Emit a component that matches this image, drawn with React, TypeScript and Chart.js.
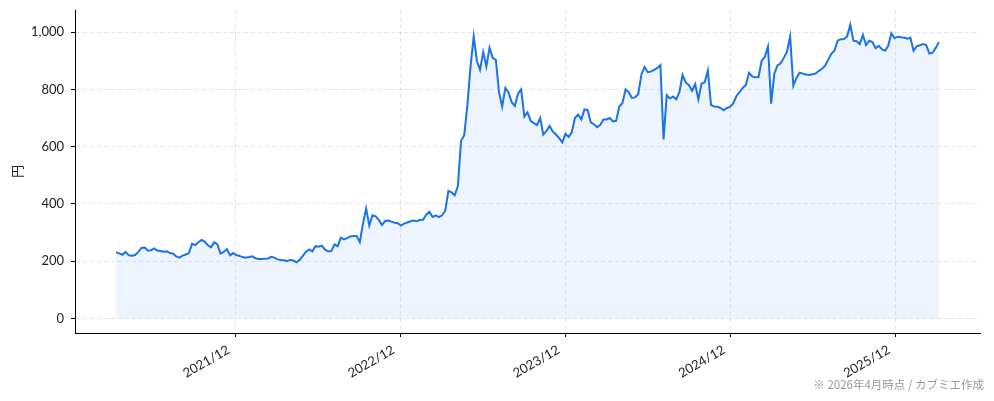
import React, { useEffect, useRef } from 'react';
import { Chart, registerables } from 'chart.js';

Chart.register(...registerables);

// weekly closing price (円), first week 2021-03-12
const START_DATE = '2021-03-12';
const STEP_DAYS = 7;
const weeklyClose = [
  231, 227, 222, 232, 220, 219, 221, 232, 246, 247,
  237, 238, 244, 237, 235, 233, 234, 228, 226, 216,
  212, 219, 223, 228, 260, 256, 266, 274, 268, 255,
  248, 266, 258, 226, 232, 242, 220, 228, 221, 218,
  214, 212, 214, 217, 210, 207, 207, 208, 209, 215,
  212, 206, 204, 203, 200, 204, 202, 196, 204, 218,
  233, 241, 234, 252, 250, 254, 240, 234, 235, 258,
  252, 282, 276, 280, 286, 288, 288, 266, 330, 384,
  324, 360, 356, 344, 326, 340, 342, 338, 334, 332,
  324, 331, 335, 339, 342, 339, 344, 344, 362, 372,
  354, 360, 354, 360, 376, 445, 440, 430, 462, 620,
  640, 745, 880, 985, 900, 868, 930, 880, 945, 910,
  903, 790, 740, 805, 790, 755, 742, 785, 800, 705,
  720, 690, 682, 675, 700, 642, 655, 672, 652, 642,
  630, 615, 645, 634, 650, 700, 712, 695, 730, 728,
  685, 678, 668, 676, 695, 695, 700, 688, 690, 740,
  752, 800, 790, 770, 772, 784, 852, 878, 860, 862,
  868, 874, 885, 625, 780, 768, 775, 765, 790, 850,
  824, 815, 795, 818, 765, 820, 825, 866, 745, 740,
  739, 735, 727, 735, 739, 751, 776, 790, 805, 815,
  858, 845, 842, 843, 900, 913, 950, 750, 855, 884,
  891, 910, 932, 985, 813, 840, 858, 855, 852, 850,
  853, 855, 864, 871, 882, 903, 924, 935, 970, 975,
  976, 985, 1026, 970, 968, 958, 990, 955, 970, 965,
  944, 952, 940, 935, 952, 996, 979, 984, 982, 981,
  977, 980, 935, 950, 954, 958, 955, 925, 928, 945,
  965,
];

const X_TICK_DATES = ['2021-12-01', '2022-12-01', '2023-12-01', '2024-12-01', '2025-12-01'];
const Y_TICKS = [0, 200, 400, 600, 800, 1000];
const Y_TITLE = '円';
const FOOTNOTE = '※ 2026年4月時点 / カブミエ作成';

const DAY_MS = 86400000;
const FONT = "Lato, 'Noto Sans CJK JP', sans-serif";

const footnotePlugin = {
  id: 'footnote',
  afterDraw(chart: Chart) {
    const { ctx, width } = chart;
    ctx.save();
    ctx.font = "11.5px 'Noto Sans CJK JP', sans-serif";
    ctx.fillStyle = '#999999';
    ctx.textAlign = 'right';
    ctx.textBaseline = 'middle';
    ctx.fillText(FOOTNOTE, width - 10, 385);
    ctx.restore();
  },
};

const App: React.FC = () => {
  const canvasRef = useRef<HTMLCanvasElement>(null);

  useEffect(() => {
    document.body.style.margin = '0';
    if (!canvasRef.current) return;

    const start = Date.parse(START_DATE);
    const points = weeklyClose.map((v, i) => ({ x: start + i * STEP_DAYS * DAY_MS, y: v }));
    const xFirst = points[0].x;
    const xLast = points[points.length - 1].x;
    const xSpan = xLast - xFirst;
    const yMax = Math.max(...weeklyClose);

    const chart = new Chart(canvasRef.current, {
      type: 'line',
      data: {
        datasets: [
          {
            data: points,
            borderColor: '#1a73e8',
            backgroundColor: 'rgba(26, 115, 232, 0.08)',
            borderWidth: 2,
            pointRadius: 0,
            tension: 0,
            fill: 'origin',
          },
        ],
      },
      options: {
        animation: false,
        responsive: true,
        maintainAspectRatio: false,
        layout: { padding: { top: 10, right: 14, left: 0, bottom: 0 } },
        plugins: {
          legend: { display: false },
          tooltip: { enabled: false },
        },
        scales: {
          x: {
            type: 'linear',
            min: xFirst - xSpan * 0.05,
            max: xLast + xSpan * 0.05,
            afterBuildTicks: (scale: any) => {
              scale.ticks = X_TICK_DATES.map(d => ({ value: Date.parse(d) }));
            },
            afterFit: (scale: any) => {
              scale.height = 68;
              scale.paddingLeft = 0;
              scale.paddingRight = 0;
            },
            grid: {
              color: 'rgba(0, 0, 0, 0.1)',
              tickColor: '#000',
              tickLength: 4,
              tickBorderDash: [],
            },
            border: { display: true, color: '#000', width: 1, dash: [4, 3] },
            ticks: {
              minRotation: 30,
              maxRotation: 30,
              autoSkip: false,
              padding: 5,
              labelOffset: -7,
              color: '#222',
              font: { family: FONT, size: 13 },
              callback: (value: any) => {
                const d = new Date(Number(value));
                return `${d.getUTCFullYear()}/${String(d.getUTCMonth() + 1).padStart(2, '0')}`;
              },
            },
          },
          y: {
            type: 'linear',
            min: -yMax * 0.05,
            max: yMax * 1.05,
            afterBuildTicks: (scale: any) => {
              scale.ticks = Y_TICKS.map(v => ({ value: v }));
            },
            afterFit: (scale: any) => {
              scale.width = 75;
              scale.paddingTop = 0;
              scale.paddingBottom = 0;
            },
            grid: {
              color: 'rgba(0, 0, 0, 0.1)',
              tickColor: '#000',
              tickLength: 4,
              tickBorderDash: [],
            },
            border: { display: true, color: '#000', width: 1, dash: [4, 3] },
            title: {
              display: true,
              text: Y_TITLE,
              color: '#222',
              font: { family: "'Noto Sans CJK JP', sans-serif", size: 13 },
              padding: { top: 9, bottom: 0 },
            },
            ticks: {
              padding: 7,
              color: '#222',
              font: { family: FONT, size: 13 },
              callback: (value: any) => Number(value).toLocaleString('en-US'),
            },
          },
        },
      },
      plugins: [footnotePlugin],
    });

    return () => {
      chart.destroy();
    };
  }, []);

  return (
    <div style={{ width: 994, height: 401, position: 'relative' }}>
      <canvas ref={canvasRef} />
    </div>
  );
};

export default App;
